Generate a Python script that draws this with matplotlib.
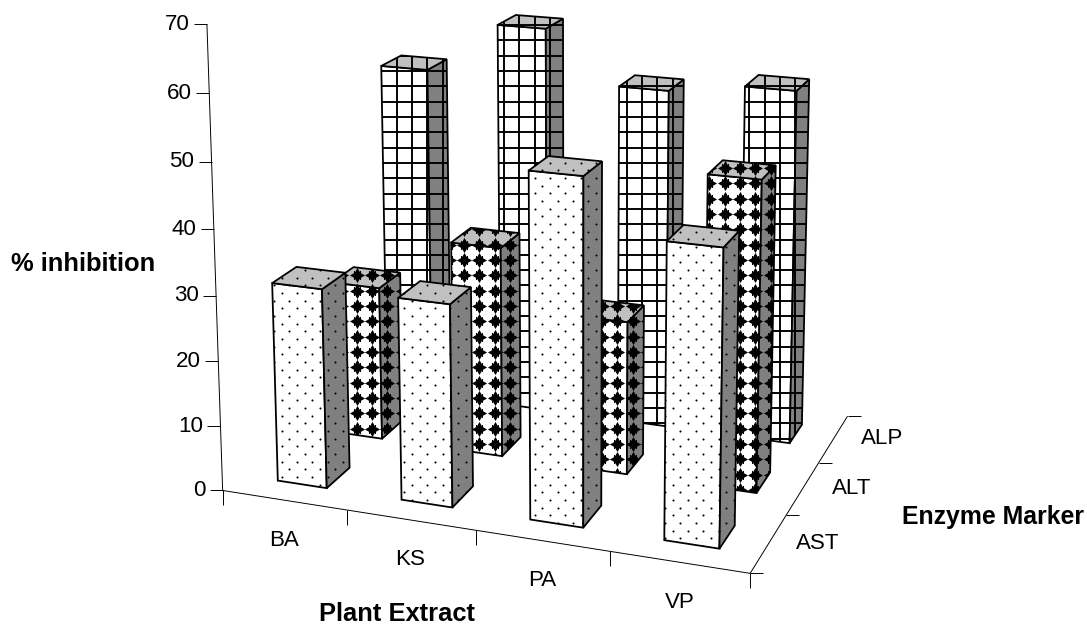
import numpy as np
import matplotlib
matplotlib.use("Agg")
import matplotlib.pyplot as plt
from matplotlib.path import Path
from matplotlib.patches import Polygon

plt.rcParams["font.family"] = ["Liberation Sans", "DejaVu Sans"]

# Chart values
plant_extracts = ["BA", "KS", "PA", "VP"]
enzyme_markers = ["AST", "ALT", "ALP"]
ast_values = [30.7, 30.8, 51.6, 43.6]
alt_values = [24.5, 33.1, 23.9, 47.7]
alp_values = [54.4, 62.6, 54.4, 56.1]
z_ticks = [0, 10, 20, 30, 40, 50, 60, 70]

BAR_WIDTH = 0.4
FRONT_COLOR = "white"
SIDE_COLOR = "#808080"
TOP_COLOR = "#c0c0c0"
TILE = 15.33  # pattern repeat in pixels, patterns stay aligned to the screen

# Floor calibration: (extract position, marker position) -> pixel
floor_world = np.array([
    (0, 0), (1, 0), (2, 0), (3, 0), (4, 0), (4, 1), (4, 2), (4, 3),
    (.3, .3), (.7, .3), (.7, .7), (1.3, .3), (1.7, .3), (1.7, .7),
    (2.3, .3), (2.7, .3), (2.7, .7), (3.3, .3), (3.7, .3), (3.7, .7),
    (.7, 1.3), (.7, 1.7), (1.7, 1.3), (1.7, 1.7), (2.7, 1.3), (2.7, 1.7),
    (3.7, 1.3), (3.7, 1.7), (3.7, 2.3), (3.7, 2.7),
])
floor_pixels = np.array([
    (222.7, 490), (347, 510), (475, 530), (609, 552), (750, 574),
    (787, 514), (818, 462), (847, 415),
    (277.3, 480), (326, 488), (350.7, 467), (402, 499.3), (452.7, 506.7),
    (473.7, 486), (530, 520), (583.3, 527.3), (601.7, 505.7), (664.3, 540),
    (719.3, 550), (734.3, 525),
    (382.3, 438.7), (400.7, 423), (502.7, 455.7), (520.7, 436.7),
    (627.3, 475), (644, 455), (756.7, 494), (770, 473.3),
    (789, 442.7), (802.7, 425),
])
VANISH = np.array([578.0, 11030.0, 1.0])  # where the verticals meet
Z_SCALE = -0.000605


def fit_floor(world, pixels):
    rows = []
    for (x, y), (u, v) in zip(world, pixels):
        rows.append([x, y, 1, 0, 0, 0, -u * x, -u * y, -u])
        rows.append([0, 0, 0, x, y, 1, -v * x, -v * y, -v])
    h = np.linalg.svd(np.array(rows))[2][-1].reshape(3, 3)
    return h / h[2, 2]


H = fit_floor(floor_world, floor_pixels)


def project(x, y, z=0):
    p = H @ np.array([x, y, 1.0]) + z * Z_SCALE * VANISH
    return p[0] / p[2], p[1] / p[2]


def star_marker():
    a, b = 0.47, 0.3
    pts = [(0, 1), (b, a), (a, a), (a, b), (1, 0), (a, -b), (a, -a), (b, -a),
           (0, -1), (-b, -a), (-a, -a), (-a, -b), (-1, 0), (-a, b), (-a, a), (-b, a), (0, 1)]
    return Path(pts, closed=True)


STAR = star_marker()


def pattern_grid(patch, x0, y0):
    verts = patch.get_xy()
    xs = np.arange(np.floor((verts[:, 0].min() - x0) / TILE) - 1,
                   np.ceil((verts[:, 0].max() - x0) / TILE) + 2) * TILE + x0
    ys = np.arange(np.floor((verts[:, 1].min() - y0) / TILE) - 1,
                   np.ceil((verts[:, 1].max() - y0) / TILE) + 2) * TILE + y0
    return xs, ys


def fill_pattern(ax, patch, kind, zorder):
    if kind == "dots":
        for dx, dy in [(0, 0), (TILE / 2, TILE / 2)]:
            xs, ys = pattern_grid(patch, 281.7 + dx, 308.3 + dy)
            xx, yy = np.meshgrid(xs, ys)
            art = ax.scatter(xx.ravel(), yy.ravel(), s=2.6, c="black", linewidths=0, zorder=zorder)
            art.set_clip_path(patch)
    elif kind == "stars":
        xs, ys = pattern_grid(patch, 356.7, 336.7)
        xx, yy = np.meshgrid(xs, ys)
        art = ax.scatter(xx.ravel(), yy.ravel(), s=140, marker=STAR, c="black", linewidths=0, zorder=zorder)
        art.set_clip_path(patch)
    else:
        xs, ys = pattern_grid(patch, 396.7, 86.2)
        for art in (ax.vlines(xs, ys[0], ys[-1], colors="black", linewidth=1.5, zorder=zorder),
                    ax.hlines(ys, xs[0], xs[-1], colors="black", linewidth=1.5, zorder=zorder)):
            art.set_clip_path(patch)


def draw_bar(ax, i, j, value, kind, zorder):
    x0 = i + 0.5 - BAR_WIDTH / 2
    x1 = i + 0.5 + BAR_WIDTH / 2
    y0 = j + 0.5 - BAR_WIDTH / 2
    y1 = j + 0.5 + BAR_WIDTH / 2
    faces = [
        ([(x0, y0, 0), (x1, y0, 0), (x1, y0, value), (x0, y0, value)], FRONT_COLOR),
        ([(x1, y0, 0), (x1, y1, 0), (x1, y1, value), (x1, y0, value)], SIDE_COLOR),
        ([(x0, y0, value), (x1, y0, value), (x1, y1, value), (x0, y1, value)], TOP_COLOR),
    ]
    for corners, color in faces:
        pts = [project(*c) for c in corners]
        patch = Polygon(pts, closed=True, facecolor=color, edgecolor="none", zorder=zorder)
        ax.add_patch(patch)
        fill_pattern(ax, patch, kind, zorder)
        ax.add_patch(Polygon(pts, closed=True, facecolor="none", edgecolor="black",
                             linewidth=1.4, joinstyle="miter", zorder=zorder))
        zorder += 1
    return zorder


def axis_line(ax, start, end):
    ax.plot([start[0], end[0]], [start[1], end[1]], color="black", linewidth=0.75,
            solid_capstyle="butt", zorder=1)


fig = plt.figure(figsize=(1087 / 92, 627 / 92), dpi=92)
ax = fig.add_axes([0, 0, 1, 1])
ax.set_xlim(0, 1087)
ax.set_ylim(627, 0)
ax.axis("off")

# Axes and ticks
n_x = len(plant_extracts)
n_y = len(enzyme_markers)
axis_line(ax, project(0, 0, z_ticks[-1]), project(0, 0, 0))
axis_line(ax, project(0, 0), project(n_x, 0))
axis_line(ax, project(n_x, 0), project(n_x, n_y))

for v in z_ticks:
    px, py = project(0, 0, v)
    axis_line(ax, (px - 13, py), (px, py))
    ax.text(px - 17, py, str(v), ha="right", va="center", fontsize=17.5)

for i in range(n_x + 1):
    px, py = project(i, 0)
    axis_line(ax, (px, py), (px, py + 15))
for i, name in enumerate(plant_extracts):
    px, py = project(i + 0.5, 0)
    ax.text(px, py + 40, name, ha="center", va="center", fontsize=17.5)

for j in range(n_y + 1):
    px, py = project(n_x, j)
    axis_line(ax, (px, py), (px + 13, py))
for j, name in enumerate(enzyme_markers):
    px, py = project(n_x, j + 0.5)
    ax.text(px + 49, py, name, ha="center", va="center", fontsize=17.5)

ax.text(11, 264, "% inhibition", ha="left", va="center", fontsize=20, fontweight="bold")
ax.text(397, 614, "Plant Extract", ha="center", va="center", fontsize=20, fontweight="bold")
ax.text(1084, 517, "Enzyme Marker", ha="right", va="center", fontsize=19.5, fontweight="bold")

# Bars, back row first
rows = [(2, alp_values, "grid"), (1, alt_values, "stars"), (0, ast_values, "dots")]
order = 2
for j, values, kind in rows:
    for i, value in enumerate(values):
        order = draw_bar(ax, i, j, value, kind, order)

fig.savefig("out.png", dpi=92)
